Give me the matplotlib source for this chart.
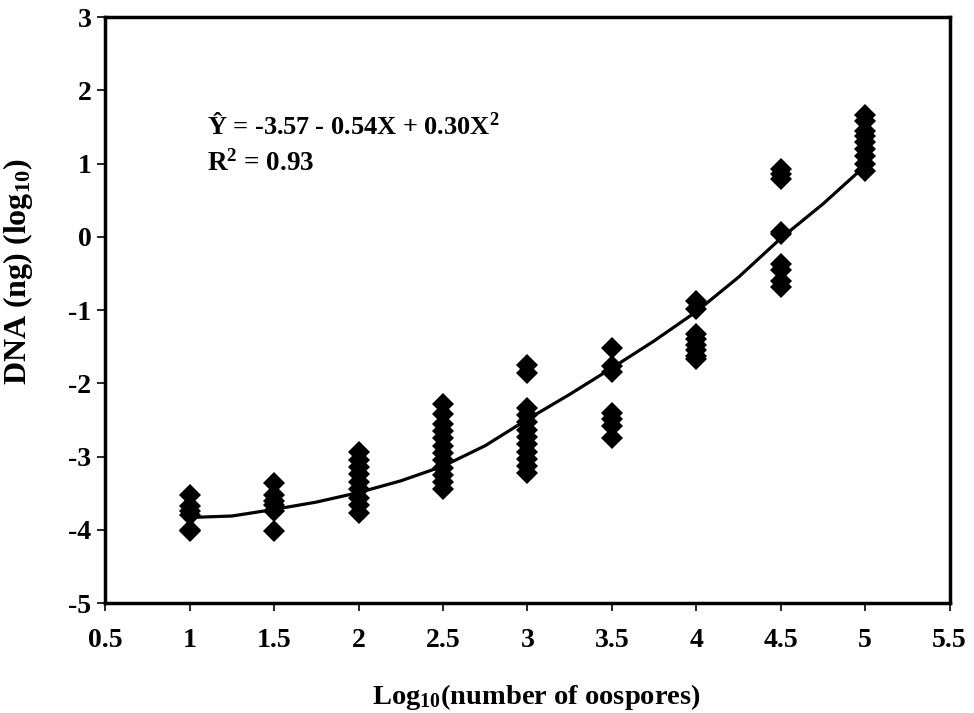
import matplotlib.pyplot as plt

plt.rcParams['font.family'] = ['Liberation Serif', 'DejaVu Serif']
plt.rcParams['font.weight'] = 'bold'
plt.rcParams['mathtext.fontset'] = 'custom'
plt.rcParams['mathtext.rm'] = 'Liberation Serif:bold'
plt.rcParams['mathtext.bf'] = 'Liberation Serif:bold'
plt.rcParams['mathtext.it'] = 'Liberation Serif:bold'

# observed DNA (log10 ng) per oospore level
x_levels = [1, 1.5, 2, 2.5, 3, 3.5, 4, 4.5, 5]
dna_1 = [-3.52, -3.68, -3.74, -3.80, -4.00, -4.02]
dna_15 = [-3.36, -3.52, -3.60, -3.66, -3.74, -4.01]
dna_2 = [-2.94, -3.04, -3.14, -3.24, -3.34, -3.44, -3.56, -3.66, -3.77]
dna_25 = [-2.28, -2.42, -2.55, -2.65, -2.75, -2.85, -2.95, -3.05, -3.15, -3.25, -3.34, -3.44]
dna_3 = [-1.75, -1.86, -2.33, -2.43, -2.53, -2.63, -2.73, -2.83, -2.93, -3.03, -3.13, -3.22]
dna_35 = [-1.52, -1.76, -1.85, -2.40, -2.48, -2.58, -2.75]
dna_4 = [-0.88, -0.98, -1.32, -1.40, -1.47, -1.55, -1.62, -1.67]
dna_45 = [0.93, 0.86, 0.79, 0.07, 0.04, -0.37, -0.45, -0.60, -0.68]
dna_5 = [1.67, 1.58, 1.45, 1.38, 1.30, 1.20, 1.10, 1.00, 0.90]
groups = [dna_1, dna_15, dna_2, dna_25, dna_3, dna_35, dna_4, dna_45, dna_5]

# trend line as drawn
fit_x = [1, 1.25, 1.5, 1.75, 2, 2.25, 2.5, 2.75, 3, 3.25, 3.5, 3.75, 4, 4.25, 4.5, 4.75, 5]
fit_y = [-3.83, -3.81, -3.72, -3.62, -3.49, -3.33, -3.13, -2.85, -2.49, -2.15, -1.79, -1.42,
         -1.02, -0.55, -0.02, 0.45, 0.97]

fig = plt.figure(figsize=(9.74, 7.13), dpi=100)
ax = fig.add_axes([0.108, 0.154, 0.867, 0.822])

for xv, ys in zip(x_levels, groups):
    ax.plot([xv] * len(ys), ys, linestyle='none', marker='D', markersize=11,
            color='black', markeredgewidth=0)
ax.plot(fit_x, fit_y, color='black', linewidth=2.3)

ax.set_xlim(0.5, 5.5)
ax.set_ylim(-5, 3)
ax.set_xticks([0.5, 1, 1.5, 2, 2.5, 3, 3.5, 4, 4.5, 5, 5.5])
ax.set_xticklabels(['0.5', '1', '1.5', '2', '2.5', '3', '3.5', '4', '4.5', '5', '5.5'])
ax.set_yticks(range(-5, 4))
ax.set_yticklabels([str(v) for v in range(-5, 4)])
ax.tick_params(direction='out', length=6, width=1.2, labelsize=20)
ax.tick_params(axis='x', pad=12)
ax.tick_params(axis='y', pad=4)
for s in ax.spines.values():
    s.set_linewidth(2.5)

ax.set_xlabel('Log$_{10}$(number of oospores)', fontsize=20.5, fontweight='bold')
ax.set_ylabel('DNA (ng) (log$_{10}$)', fontsize=23, fontweight='bold')
ax.xaxis.set_label_coords(0.511, -0.135)
ax.yaxis.set_label_coords(-0.083, 0.565)

ax.text(1.1, 1.52, 'Ŷ = -3.57 - 0.54X + 0.30X$^{2}$', fontsize=19, fontweight='bold', va='center')
ax.text(1.1, 1.0, 'R$^{2}$ = 0.93', fontsize=19.5, fontweight='bold', va='center')

fig.savefig('out.png', dpi=100)
